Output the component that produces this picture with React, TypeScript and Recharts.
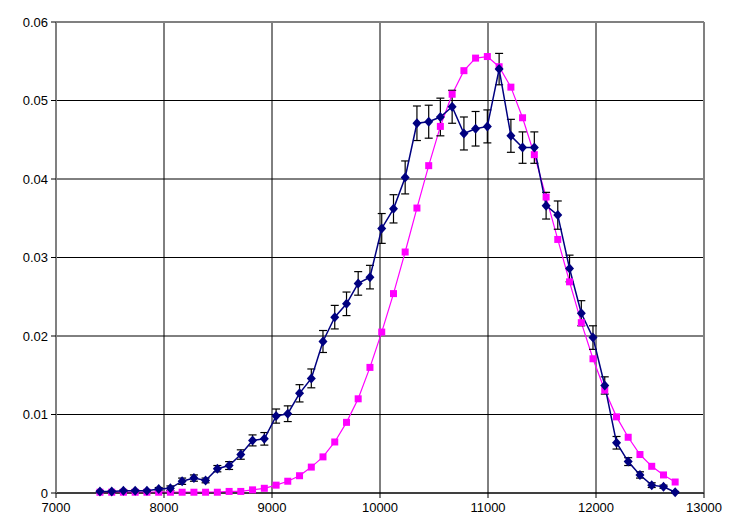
import React from 'react';
import {
  LineChart,
  Line,
  XAxis,
  YAxis,
  CartesianGrid,
  ReferenceLine,
  ErrorBar,
} from 'recharts';

const xValues = [
  7407, 7516, 7624, 7733, 7842, 7951, 8059, 8168, 8277, 8385,
  8494, 8603, 8711, 8820, 8929, 9038, 9146, 9255, 9364, 9472,
  9581, 9690, 9798, 9907, 10016, 10125, 10233, 10342, 10451, 10559,
  10668, 10777, 10885, 10994, 11103, 11212, 11320, 11429, 11538, 11646,
  11755, 11864, 11972, 12081, 12190, 12298, 12407, 12516, 12625, 12733,
];

const measured = [
  0.0002, 0.0002, 0.0003, 0.0003, 0.0003, 0.0005, 0.0006, 0.0015, 0.0019, 0.0016,
  0.0031, 0.0035, 0.0049, 0.0067, 0.0069, 0.0098, 0.0101, 0.0127, 0.0146, 0.0193,
  0.0224, 0.0241, 0.0267, 0.0275, 0.0337, 0.0362, 0.0402, 0.0471, 0.0473, 0.0479,
  0.0492, 0.0458, 0.0464, 0.0467, 0.054, 0.0455, 0.044, 0.044, 0.0366, 0.0354,
  0.0286, 0.0229, 0.0198, 0.0137, 0.0064, 0.004, 0.0023, 0.001, 0.0008, 0.0001,
];

const measuredErr = [
  0.0001, 0.0001, 0.0001, 0.0001, 0.0001, 0.0002, 0.0003, 0.0004, 0.0004, 0.0003,
  0.0004, 0.0005, 0.0006, 0.0007, 0.0008, 0.0009, 0.001, 0.0011, 0.0012, 0.0014,
  0.0015, 0.0015, 0.0015, 0.0015, 0.0019, 0.0018, 0.0021, 0.0022, 0.0021, 0.0024,
  0.0021, 0.0021, 0.0022, 0.0021, 0.002, 0.0021, 0.002, 0.002, 0.0017, 0.0018,
  0.0017, 0.0016, 0.0015, 0.0011, 0.0008, 0.0005, 0.0004, 0.0003, 0.0002, 0.0001,
];

const model = [
  0.0001, 0.0001, 0.0001, 0.0001, 0.0001, 0.0001, 0.0001, 0.0001, 0.0001, 0.0001,
  0.0001, 0.0002, 0.0002, 0.0004, 0.0006, 0.001, 0.0015, 0.0022, 0.0033, 0.0046,
  0.0065, 0.009, 0.012, 0.016, 0.0205, 0.0254, 0.0307, 0.0363, 0.0417, 0.0467,
  0.0508, 0.0538, 0.0554, 0.0556, 0.0543, 0.0517, 0.0478, 0.0431, 0.0377, 0.0323,
  0.0269, 0.0217, 0.0171, 0.0131, 0.0097, 0.0071, 0.0049, 0.0034, 0.0023, 0.0014,
];

const xTicks = [7000, 8000, 9000, 10000, 11000, 12000, 13000];
const yTicks = [0, 0.01, 0.02, 0.03, 0.04, 0.05, 0.06];

const rows = xValues.map((x, i) => ({
  x,
  measured: measured[i],
  err: measuredErr[i],
  model: model[i],
}));

const NAVY = '#000080';
const MAGENTA = '#FF00FF';
const FONT = '"Liberation Sans", Arial, sans-serif';

function Diamond(props: any) {
  const { cx, cy, index } = props;
  if (cx == null || cy == null) return <g key={`dm-${index}`} />;
  return (
    <polygon
      key={`dm-${index}`}
      points={`${cx},${cy - 5} ${cx + 4.5},${cy} ${cx},${cy + 5} ${cx - 4.5},${cy}`}
      fill={NAVY}
    />
  );
}

function Square(props: any) {
  const { cx, cy, index } = props;
  if (cx == null || cy == null) return <g key={`sq-${index}`} />;
  return <rect key={`sq-${index}`} x={cx - 3.5} y={cy - 3.5} width={7} height={7} fill={MAGENTA} />;
}

export default function App() {
  const tick = { fontSize: 13, fill: '#000', fontFamily: FONT };
  return (
    <div style={{ position: 'absolute', left: 0, top: 0, background: '#fff' }}>
      <LineChart
        width={740}
        height={521}
        data={rows}
        margin={{ top: 22, right: 36, bottom: 2, left: 6 }}
      >
        <CartesianGrid stroke="#000" strokeWidth={1} />
        <XAxis
          type="number"
          dataKey="x"
          domain={[7000, 13000]}
          ticks={xTicks}
          interval={0}
          tick={tick}
          tickSize={5}
          tickMargin={5}
          height={26}
          axisLine={{ stroke: '#000' }}
          tickLine={{ stroke: '#000' }}
        />
        <YAxis
          type="number"
          domain={[0, 0.06]}
          ticks={yTicks}
          interval={0}
          width={50}
          tick={tick}
          tickSize={5}
          tickMargin={3}
          tickFormatter={(v: number) => (v === 0 ? '0' : v.toFixed(2))}
          axisLine={{ stroke: '#808080', strokeWidth: 2 }}
          tickLine={{ stroke: '#000' }}
        />
        <ReferenceLine y={0.06} stroke="#808080" strokeWidth={2} />
        <ReferenceLine x={13000} stroke="#808080" strokeWidth={2} />
        <Line
          type="linear"
          dataKey="model"
          stroke={MAGENTA}
          strokeWidth={1.2}
          dot={Square}
          activeDot={false}
          isAnimationActive={false}
        />
        <Line
          type="linear"
          dataKey="measured"
          stroke={NAVY}
          strokeWidth={1.5}
          dot={Diamond}
          activeDot={false}
          isAnimationActive={false}
        >
          <ErrorBar dataKey="err" direction="y" width={4} stroke="#000" strokeWidth={1.2} />
        </Line>
      </LineChart>
    </div>
  );
}
